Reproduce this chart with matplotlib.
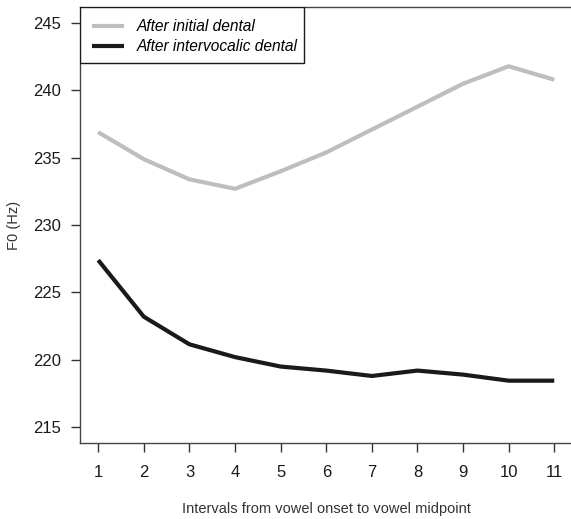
import matplotlib.pyplot as plt
from matplotlib.patches import Rectangle

plt.rcParams['font.family'] = ['Liberation Sans', 'DejaVu Sans']

# Mean F0 along the vowel, sampled at 11 intervals
intervals = [1, 2, 3, 4, 5, 6, 7, 8, 9, 10, 11]
f0_initial = [236.9, 234.9, 233.4, 232.7, 234.0, 235.4, 237.1, 238.8, 240.5, 241.8, 240.8]
f0_intervocalic = [227.4, 223.2, 221.15, 220.2, 219.5, 219.2, 218.8, 219.2, 218.9, 218.45, 218.45]
series_labels = ['After initial dental', 'After intervocalic dental']

W, H = 571, 519
fig = plt.figure(figsize=(W / 100, H / 100), dpi=100)
left, right, top, bottom = 80, 572.5, 7, 443.3
ax = fig.add_axes([left / W, (H - bottom) / H, (right - left) / W, (bottom - top) / H])

ax.plot(intervals, f0_initial, color='#bebebe', lw=3.0, solid_capstyle='butt',
        label=series_labels[0])
ax.plot(intervals, f0_intervocalic, color='#1a1a1a', lw=3.0, solid_capstyle='butt',
        label=series_labels[1])

# R-style 4% padding around the data ranges
ax.set_xlim(0.6, 11.4)
ax.set_ylim(213.8, 246.2)
ax.set_xticks(intervals)
ax.set_yticks([215, 220, 225, 230, 235, 240, 245])

for s in ax.spines.values():
    s.set_color('#444444')
    s.set_linewidth(1.0)

ax.tick_params(axis='both', length=6.5, width=1.0, color='#333333',
               labelsize=12, labelcolor='#1a1a1a')
ax.tick_params(axis='y', pad=7)
ax.tick_params(axis='x', pad=9)

ax.set_xlabel('Intervals from vowel onset to vowel midpoint', fontsize=10.5, color='#333333')
ax.set_ylabel('F0 (Hz)', fontsize=10.5, color='#333333')
ax.xaxis.set_label_coords(0.5, -0.1345)
ax.yaxis.set_label_coords(-0.12, 0.5)

# legend box drawn separately so its padding can be uneven
ax.add_patch(Rectangle((0, 1 - 0.1277), 0.4548, 0.1277, transform=ax.transAxes,
                       facecolor='white', edgecolor='#1a1a1a', lw=1.0, zorder=4))
leg = ax.legend(loc='upper left', borderaxespad=0, prop={'style': 'italic', 'size': 11.2},
                frameon=False, handlelength=2.0, handletextpad=0.85,
                borderpad=0.8, labelspacing=0.3)
leg.set_zorder(5)

fig.savefig('out.png', dpi=100)
